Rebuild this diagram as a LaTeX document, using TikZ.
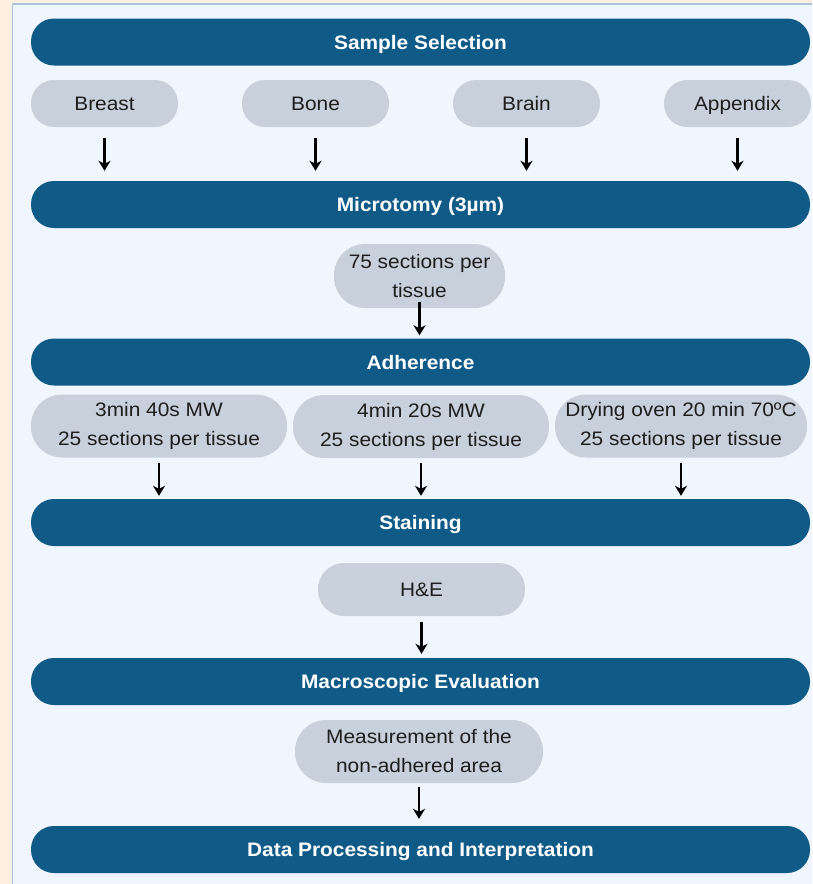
\documentclass[tikz,border=0pt]{standalone}
\usepackage{fontspec}
\setmainfont{Liberation Sans}[FakeStretch=1.07]
\usetikzlibrary{arrows.meta}
\definecolor{stagecol}{RGB}{16,90,135}
\definecolor{pillcol}{RGB}{200,208,219}
\definecolor{panelcol}{RGB}{240,246,254}
\definecolor{creamcol}{RGB}{253,240,225}
\definecolor{edgecol}{RGB}{170,196,218}
\definecolor{inkcol}{RGB}{30,30,30}

\begin{document}
\begin{tikzpicture}[x=1pt, y=-1pt,
  stage/.style={fill=stagecol, text=white, font=\fontsize{19.5}{23}\selectfont\bfseries,
    minimum width=779pt, minimum height=47pt, rounded corners=23pt, inner sep=0pt,
    text height=14pt, text depth=0pt},
  item/.style={fill=pillcol, text=inkcol, font=\fontsize{19.5}{29}\selectfont,
    inner sep=0pt, rounded corners=23pt},
  tag/.style={item, text height=14pt, text depth=0pt},
  flow/.style={-{Stealth[length=10pt, width=12pt, inset=3pt]}, line width=2.2pt, black}]

  \clip (0,0) rectangle (812,884);
  \fill[creamcol] (0,0) rectangle (812,884);
  \filldraw[fill=panelcol, draw=edgecol, line width=1.5pt] (12.5,4) rectangle (830,900);

  \node[stage] (a) at (420.5, 42) {Sample Selection};
  \node[stage] (b) at (420.5, 204.5) {Microtomy (3µm)};
  \node[stage] (c) at (420.5, 362) {Adherence};
  \node[stage] (d) at (420.5, 522.5) {Staining};
  \node[stage] (e) at (420.5, 681.5) {Macroscopic Evaluation};
  \node[stage] (f) at (420.5, 849.5) {Data Processing and Interpretation};

  \node[tag, minimum width=147pt, minimum height=47pt] (g) at (104.5, 103.5) {Breast};
  \node[tag, minimum width=147pt, minimum height=47pt] (h) at (315.5, 103.5) {Bone};
  \node[tag, minimum width=147pt, minimum height=47pt] (i) at (526.5, 103.5) {Brain};
  \node[tag, minimum width=147pt, minimum height=47pt] (j) at (737.5, 103.5) {Appendix};
  \node[item, align=center, minimum width=171pt, minimum height=64pt, rounded corners=31pt] (k) at (419.5, 276) {75 sections per\\tissue};
  \node[item, align=center, minimum width=256pt, minimum height=63pt, rounded corners=31pt] (l) at (159, 426) {3min 40s MW\\25 sections per tissue};
  \node[item, align=center, minimum width=256pt, minimum height=63pt, rounded corners=31pt] (m) at (421, 426.5) {4min 20s MW\\25 sections per tissue};
  \node[item, align=center, minimum width=252pt, minimum height=63pt, rounded corners=31pt] (n) at (681, 426) {Drying oven 20 min 70ºC\\25 sections per tissue};
  \node[tag, minimum width=207pt, minimum height=53pt, rounded corners=26pt] (o) at (421.5, 589.5) {H\&E};
  \node[item, align=center, minimum width=248pt, minimum height=63pt, rounded corners=31pt] (p) at (419, 751.5) {Measurement of the\\non-adhered area};

  \draw [flow, shorten <=11pt, shorten >=10pt] (g.south) to (g.south |- b.north);
  \draw [flow, shorten <=11pt, shorten >=10pt] (h.south) to (h.south |- b.north);
  \draw [flow, shorten <=11pt, shorten >=10pt] (i.south) to (i.south |- b.north);
  \draw [flow, shorten <=11pt, shorten >=10pt] (j.south) to (j.south |- b.north);
  \draw [flow, shorten <=-6pt, shorten >=3pt] (k.south) to (k.south |- c.north);
  \draw [flow, shorten <=5pt, shorten >=3pt] (l.south) to (l.south |- d.north);
  \draw [flow, shorten <=5pt, shorten >=3pt] (m.south) to (m.south |- d.north);
  \draw [flow, shorten <=5pt, shorten >=3pt] (n.south) to (n.south |- d.north);
  \draw [flow, shorten <=6pt, shorten >=4pt] (o.south) to (o.south |- e.north);
  \draw [flow, shorten <=4pt, shorten >=7pt] (p.south) to (p.south |- f.north);

\end{tikzpicture}
\end{document}
